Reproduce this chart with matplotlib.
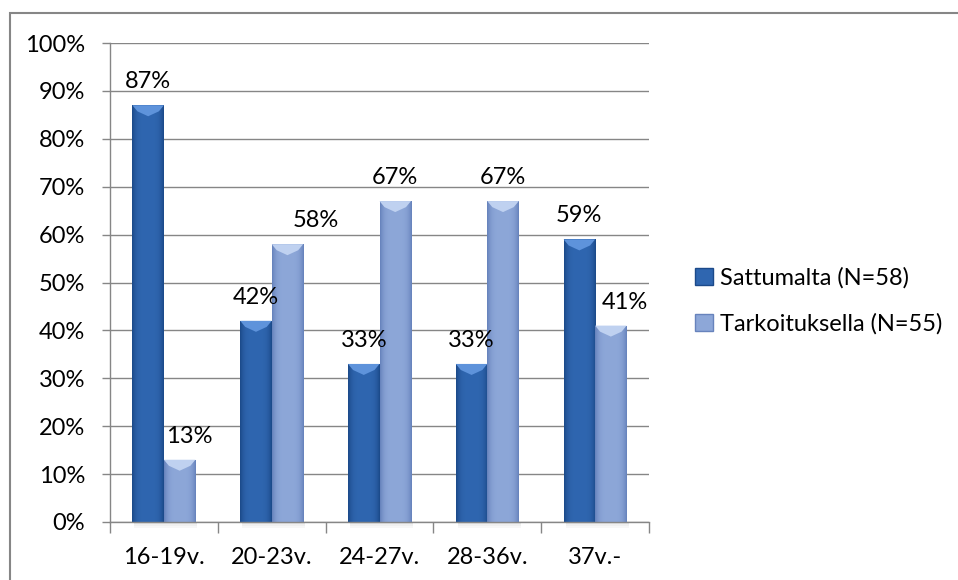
import matplotlib
matplotlib.use("Agg")
import matplotlib.pyplot as plt
import numpy as np
from matplotlib.patches import Rectangle, Polygon

plt.rcParams['font.family'] = ['Lato', 'DejaVu Sans']

# Ikäryhmät ja osuudet (%)
categories = ["16-19v.", "20-23v.", "24-27v.", "28-36v.", "37v.-"]
sattumalta = [87, 42, 33, 33, 59]
tarkoituksella = [13, 58, 67, 67, 41]
series_names = ["Sattumalta (N=58)", "Tarkoituksella (N=55)"]
yticks = list(range(0, 101, 10))

W, H = 958, 580
fig = plt.figure(figsize=(W / 100, H / 100), dpi=100)
ax_l, ax_b, ax_w, ax_h = 110, 58, 539, 479
ax = fig.add_axes([ax_l / W, ax_b / H, ax_w / W, ax_h / H])

grey = "#868686"
fs = 17

# chart border (only top and left visible)
fig.patches.append(Rectangle((10 / W, -0.1), 1.2, (H - 13) / H + 0.1,
                             transform=fig.transFigure, fill=False,
                             ec=grey, lw=1.5, zorder=0))

x = np.arange(len(categories))
bw = 0.292
px_x = ax_w / 5.0      # pixels per x unit
px_y = ax_h / 100.0    # pixels per y unit

styles = [
    dict(base="#2F66B0", edge="#1C4A8A", top="#5E93DB"),
    dict(base="#8DA7D8", edge="#6783BC", top="#BFD1F0"),
]


def bevel_bar(xc, val, st):
    x0, x1 = xc - bw / 2, xc + bw / 2
    rect = Rectangle((x0, 0), bw, val, fc=st["base"], ec="none", zorder=3)
    ax.add_patch(rect)
    # horizontal shading: darker edges, lighter middle
    t = np.abs(np.linspace(-1, 1, 40)) ** 4
    c0 = np.array(matplotlib.colors.to_rgb(st["base"]))
    c1 = np.array(matplotlib.colors.to_rgb(st["edge"]))
    grad = (c0[None, :] * (1 - t[:, None]) + c1[None, :] * t[:, None])[None, :, :]
    im = ax.imshow(grad, extent=(x0, x1, 0, val), aspect="auto",
                   interpolation="bilinear", zorder=3.1)
    im.set_clip_path(rect)
    # top bevel
    h = 11 / px_y
    bx = 5 / px_x
    ax.add_patch(Polygon([(x0, val), (x1, val), (x1 - bx, val - h * 0.55),
                          (xc, val - h), (x0 + bx, val - h * 0.55)],
                         closed=True, fc=st["top"], ec="none", zorder=3.2))
    # soft shadow under the bar foot
    for k, a in enumerate([0.10, 0.06, 0.03]):
        ax.add_patch(Rectangle((x0 + 2 / px_x, -(k + 1) * 2 / px_y), bw,
                               2 / px_y, fc="black", alpha=a, ec="none",
                               clip_on=False, zorder=2))


for i in range(len(categories)):
    bevel_bar(x[i] - bw / 2, sattumalta[i], styles[0])
    bevel_bar(x[i] + bw / 2, tarkoituksella[i], styles[1])

# value labels
light_dx = [10, 28, 0, 0, 14]
for i in range(len(categories)):
    ax.annotate(f"{sattumalta[i]}%", (x[i] - bw / 2, sattumalta[i]),
                xytext=(0, 17), textcoords="offset pixels",
                ha="center", va="baseline", fontsize=fs, zorder=5)
    ax.annotate(f"{tarkoituksella[i]}%", (x[i] + bw / 2, tarkoituksella[i]),
                xytext=(light_dx[i], 17), textcoords="offset pixels",
                ha="center", va="baseline", fontsize=fs, zorder=5)

ax.set_xlim(-0.5, len(categories) - 0.5)
ax.set_ylim(0, 100)
ax.set_yticks(yticks)
ax.set_yticklabels([f"{v}%" for v in yticks], fontsize=fs)
ax.set_xticks(np.arange(-0.5, len(categories)))
ax.set_xticklabels([])
ax.set_xticks(x, minor=True)
ax.set_xticklabels(categories, minor=True, fontsize=fs)
ax.tick_params(axis="y", length=6, width=1, color=grey, pad=12)
ax.tick_params(axis="x", which="major", length=8, width=1, color=grey)
ax.tick_params(axis="x", which="minor", length=0, pad=18)

ax.yaxis.grid(True, color=grey, lw=1)
ax.set_axisbelow(True)
for s in ["top", "right"]:
    ax.spines[s].set_visible(False)
for s in ["left", "bottom"]:
    ax.spines[s].set_color(grey)
    ax.spines[s].set_linewidth(1)
    ax.spines[s].set_zorder(4)

handles = [Rectangle((0, 0), 1, 1, fc=styles[0]["base"], ec=styles[0]["edge"]),
           Rectangle((0, 0), 1, 1, fc=styles[1]["base"], ec=styles[1]["edge"])]
fig.legend(handles, series_names, loc="center left",
           bbox_to_anchor=(686 / W, 1 - 301 / H), frameon=False,
           fontsize=fs, handlelength=0.75, handleheight=0.75,
           handletextpad=0.3, labelspacing=1.05, borderaxespad=0)

fig.savefig("out.png", dpi=100)
